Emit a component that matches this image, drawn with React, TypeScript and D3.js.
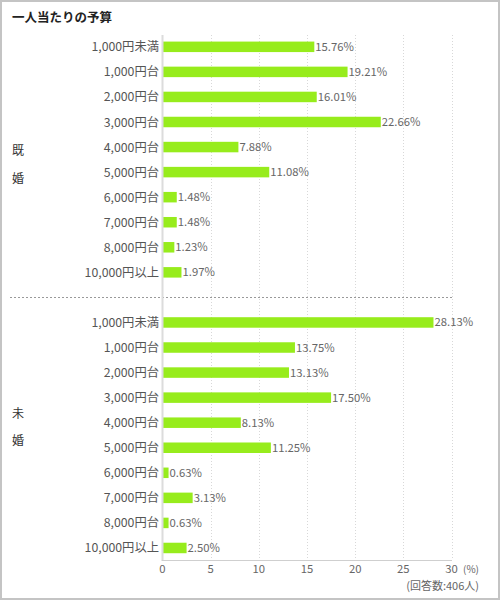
import { scaleBand, scaleLinear, range } from "d3";

const categories = [
  "1,000円未満",
  "1,000円台",
  "2,000円台",
  "3,000円台",
  "4,000円台",
  "5,000円台",
  "6,000円台",
  "7,000円台",
  "8,000円台",
  "10,000円以上",
];
const married = [15.76, 19.21, 16.01, 22.66, 7.88, 11.08, 1.48, 1.48, 1.23, 1.97];
const unmarried = [28.13, 13.75, 13.13, 17.5, 8.13, 11.25, 0.63, 3.13, 0.63, 2.5];
const groupNames = ["既婚", "未婚"];
const xTicks = [0, 5, 10, 15, 20, 25, 30];
const title = "一人当たりの予算";
const note = "(回答数:406人)";

const FONT = "'Noto Sans CJK JP', 'Noto Sans', sans-serif";

export default function App() {
  const width = 500;
  const height = 600;
  const x0 = 162.5;
  const x = scaleLinear().domain([0, 30]).range([x0, 451.5]);

  // 21 rows: 10 married, a gap row, 10 unmarried
  const rowKeys = range(21).map(String);
  const y = scaleBand().domain(rowKeys).range([34.3, 560.5]).padding(0);
  const step = y.bandwidth();
  const rowCenter = (i: number) => (y(String(i)) ?? 0) + step / 2;
  const barH = 10.5;

  const rows = [
    ...married.map((v, i) => ({ label: categories[i], value: v, row: i })),
    ...unmarried.map((v, i) => ({ label: categories[i], value: v, row: i + 11 })),
  ];

  const sepY = rowCenter(10);
  const axisTop = 35;
  const axisBottom = 560;

  const groupLabelYs = [
    [rowCenter(4) + 8, rowCenter(5) + 10.5],
    [rowCenter(14) + 20, rowCenter(15) + 22],
  ];

  return (
    <div>
      <style>{`body{margin:0}`}</style>
      <svg width={width} height={height} style={{ display: "block", fontFamily: FONT }}>
        <rect x={0} y={0} width={width} height={height} fill="#fff" />
        <rect x={1} y={1} width={width - 2} height={height - 2} fill="none" stroke="#c4c4c4" strokeWidth={2} />

        <text x={12} y={22} fontSize={12.5} fontWeight="bold" fill="#222">
          {title}
        </text>

        {/* grid */}
        {xTicks.slice(1).map((t) => (
          <line
            key={t}
            x1={Math.round(x(t)) + 0.5}
            x2={Math.round(x(t)) + 0.5}
            y1={axisTop}
            y2={axisBottom}
            stroke="#d8d8d8"
            strokeDasharray="1 2"
          />
        ))}

        {/* separator */}
        <line x1={10} x2={452} y1={Math.round(sepY) + 0.5} y2={Math.round(sepY) + 0.5} stroke="#999" strokeDasharray="2 2" />

        {/* bars */}
        {rows.map((d) => {
          const cy = rowCenter(d.row);
          return (
            <g key={d.row}>
              <text x={159} y={cy + 4.5} textAnchor="end" fontSize={12.3} fill="#555">
                {d.label}
              </text>
              <rect x={x(0)} y={cy - barH / 2} width={x(d.value) - x(0)} height={barH} fill="#97ec1c" />
              <text x={x(d.value) + 1} y={cy + 4} fontSize={11.3} fill="#666">
                {d.value.toFixed(2)}%
              </text>
            </g>
          );
        })}

        {/* axes */}
        <line x1={x0} x2={x0} y1={axisTop} y2={axisBottom} stroke="#dcdcdc" strokeWidth={2} />
        <line x1={x0 - 1} x2={452} y1={axisBottom + 0.5} y2={axisBottom + 0.5} stroke="#cfcfcf" />
        {xTicks.map((t) => (
          <text key={t} x={x(t)} y={573} textAnchor="middle" fontSize={11.3} fill="#666">
            {t}
          </text>
        ))}
        <text x={463} y={573} fontSize={10} fill="#666">
          (%)
        </text>
        <text x={479} y={590} textAnchor="end" fontSize={11} fill="#666">
          {note}
        </text>

        {/* group labels */}
        {groupNames.map((g, gi) =>
          g.split("").map((ch, ci) => (
            <text key={`${gi}-${ci}`} x={12} y={groupLabelYs[gi][ci]} fontSize={12} fill="#333">
              {ch}
            </text>
          )),
        )}
      </svg>
    </div>
  );
}
